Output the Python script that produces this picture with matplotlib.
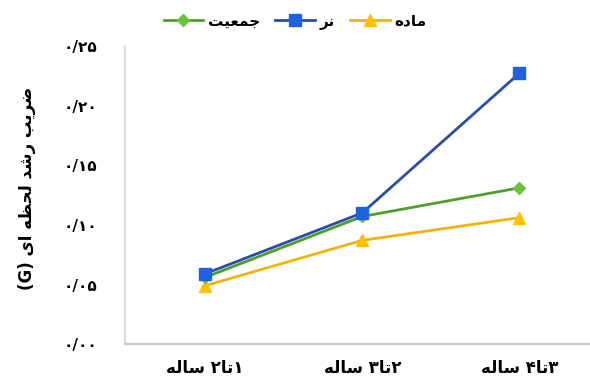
import matplotlib
matplotlib.use('Agg')
import matplotlib.pyplot as plt
import re

# ضریب رشد لحظه ای در سه بازه سنی
ages = ['۱تا۲ ساله', '۲تا۳ ساله', '۳تا۴ ساله']
g_jamiat = [0.056, 0.107, 0.131]
g_nar = [0.059, 0.110, 0.227]
g_made = [0.049, 0.087, 0.106]
yticks = [0.00, 0.05, 0.10, 0.15, 0.20, 0.25]

# اشکال حروف: مجزا، پایانی، آغازی، میانی
FORMS = {
    'ا': ('\uFE8D', '\uFE8E', None, None),
    'ب': ('\uFE8F', '\uFE90', '\uFE91', '\uFE92'),
    'ت': ('\uFE95', '\uFE96', '\uFE97', '\uFE98'),
    'ج': ('\uFE9D', '\uFE9E', '\uFE9F', '\uFEA0'),
    'ح': ('\uFEA1', '\uFEA2', '\uFEA3', '\uFEA4'),
    'د': ('\uFEA9', '\uFEAA', None, None),
    'ر': ('\uFEAD', '\uFEAE', None, None),
    'س': ('\uFEB1', '\uFEB2', '\uFEB3', '\uFEB4'),
    'ش': ('\uFEB5', '\uFEB6', '\uFEB7', '\uFEB8'),
    'ض': ('\uFEBD', '\uFEBE', '\uFEBF', '\uFEC0'),
    'ظ': ('\uFEC5', '\uFEC6', '\uFEC7', '\uFEC8'),
    'ع': ('\uFEC9', '\uFECA', '\uFECB', '\uFECC'),
    'ل': ('\uFEDD', '\uFEDE', '\uFEDF', '\uFEE0'),
    'م': ('\uFEE1', '\uFEE2', '\uFEE3', '\uFEE4'),
    'ن': ('\uFEE5', '\uFEE6', '\uFEE7', '\uFEE8'),
    'ه': ('\uFEE9', '\uFEEA', '\uFEEB', '\uFEEC'),
    'ی': ('\uFEEF', '\uFEF0', '\uFEF3', '\uFEF4'),
}
MIRROR = {'(': ')', ')': '('}


def fa(s):
    # اتصال حروف
    out = []
    for i, c in enumerate(s):
        if c not in FORMS:
            out.append(c)
            continue
        prev = s[i - 1] if i > 0 else ''
        nxt = s[i + 1] if i + 1 < len(s) else ''
        jp = prev in FORMS and FORMS[prev][2] is not None
        jn = FORMS[c][2] is not None and nxt in FORMS
        iso, fin, ini, med = FORMS[c]
        out.append(med if jp and jn else fin if jp else ini if jn else iso)
    shaped = ''.join(out)
    # ترتیب نمایش راست به چپ
    runs = re.findall(r'[A-Za-z0-9۰-۹/.]+|[^A-Za-z0-9۰-۹/.]+', shaped)
    vis = []
    for r in reversed(runs):
        if re.match(r'[A-Za-z0-9۰-۹/.]', r):
            vis.append(r)
        else:
            vis.append(''.join(MIRROR.get(ch, ch) for ch in reversed(r)))
    return ''.join(vis)


def fa_num(v):
    return ('%.2f' % v).translate(str.maketrans('0123456789.', '۰۱۲۳۴۵۶۷۸۹/'))


plt.rcParams['font.family'] = 'DejaVu Sans'
plt.rcParams['font.weight'] = 'bold'

fig = plt.figure(figsize=(5.9, 3.92), dpi=100)
ax = fig.add_axes([0.212, 0.122, 0.788, 0.761])

x = [1, 2, 3]
l_made, = ax.plot(x, g_made, color='#F2B40C', lw=2, marker='^', ms=8,
                  markerfacecolor='#FFC000', markeredgecolor='#FFC000')
l_jam, = ax.plot(x, g_jamiat, color='#4E9F2A', lw=2, marker='D', ms=6,
                 markerfacecolor='#6CC040', markeredgecolor='#6CC040')
l_nar, = ax.plot(x, g_nar, color='#2A4EA6', lw=2, marker='s', ms=8,
                 markerfacecolor='#1E62E0', markeredgecolor='#1E62E0')

ax.set_xlim(0.49, 3.45)
ax.set_ylim(0, 0.25)
ax.set_xticks(x)
ax.set_xticklabels([fa(a) for a in ages], fontsize=12)
ax.set_yticks(yticks)
ax.set_yticklabels([fa_num(v) for v in yticks], fontsize=11)
ax.tick_params(length=0)
ax.tick_params(axis='y', pad=20)
ax.tick_params(axis='x', pad=11)

for s in ['top', 'right']:
    ax.spines[s].set_visible(False)
ax.spines['left'].set_color('#d4d4d4')
ax.spines['bottom'].set_color('#c8c8c8')
ax.spines['left'].set_linewidth(1.2)
ax.spines['bottom'].set_linewidth(1.5)

fig.text(0.045, 0.52, fa('ضریب رشد لحظه ای (G)'), rotation=90,
         ha='center', va='center', fontsize=12, fontweight='bold')

fig.legend([l_jam, l_nar, l_made], [fa('جمعیت'), fa('نر'), fa('ماده')],
           loc='upper center', bbox_to_anchor=(0.5, 1.0), ncol=3,
           frameon=False, fontsize=11, handlelength=2.6,
           columnspacing=1.0, handletextpad=0.3)

fig.savefig('out.png', dpi=100)
